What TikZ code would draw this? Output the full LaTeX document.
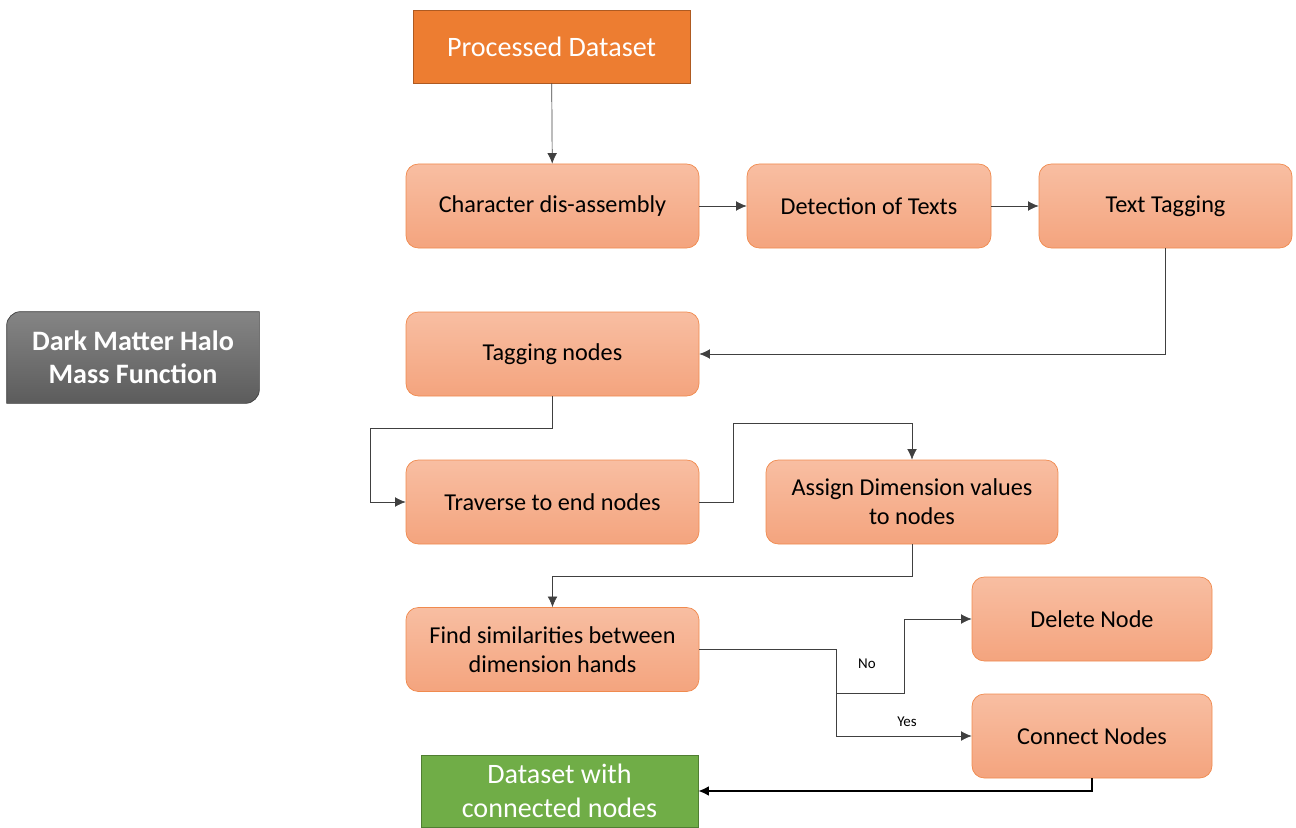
\documentclass[tikz,border=0pt]{standalone}
\usepackage{fontspec}
\setmainfont{Carlito}
\usepackage{tikz}
\usetikzlibrary{positioning,backgrounds,arrows.meta}
\definecolor{procorange}{HTML}{ED7D31}
\definecolor{procedge}{HTML}{AE5A21}
\definecolor{boxtop}{HTML}{F8BEA2}
\definecolor{boxbot}{HTML}{F4A47E}
\definecolor{boxedge}{HTML}{F08A4E}
\definecolor{outgreen}{HTML}{70AD47}
\definecolor{outedge}{HTML}{507E32}
\definecolor{halotop}{HTML}{858585}
\definecolor{halobot}{HTML}{5C5C5C}
\definecolor{linegray}{HTML}{404040}

\begin{document}
\begin{tikzpicture}[x=0.02cm,y=-0.02cm]
\tikzstyle{proc}=[rectangle, rounded corners=7pt, draw=boxedge, top color=boxtop, bottom color=boxbot, minimum height=84*0.02cm, align=center, font=\fontsize{13.8}{16.5}\selectfont]
\tikzstyle{start}=[rectangle, draw=procedge, fill=procorange, text=white, minimum width=277*0.02cm, minimum height=73*0.02cm, font=\fontsize{16}{19}\selectfont]
\tikzstyle{finish}=[rectangle, draw=outedge, fill=outgreen, text=white, align=center, minimum width=277*0.02cm, minimum height=72*0.02cm, font=\fontsize{16}{19}\selectfont]
\tikzstyle{halo}=[rectangle, text=white, align=center, minimum width=252*0.02cm, minimum height=91*0.02cm, font=\fontsize{16}{19}\selectfont\bfseries]
\tikzstyle{connect}=[-{Latex[length=6pt,width=5.5pt]}, linegray]
\tikzstyle{answer}=[font=\fontsize{8.5}{10}\selectfont]
\useasboundingbox (0,0) rectangle (1296,828);
	\node[start] (data) at (551.5,46.5) {Processed Dataset};
	\node[proc, minimum width=293*0.02cm] (chars) at (552.5,206) {Character dis-assembly};
	\node[proc, minimum width=244*0.02cm] (detect) at (869,206) {Detection of Texts};
	\node[proc, minimum width=253*0.02cm] (texttag) at (1165.5,206) {Text Tagging};
	\node[proc, minimum width=293*0.02cm] (nodetag) at (552.5,354) {Tagging nodes};
	\node[proc, minimum width=293*0.02cm] (traverse) at (552.5,502) {Traverse to end nodes};
	\node[proc, minimum width=292*0.02cm] (assign) at (912,502) {Assign Dimension values\\to nodes};
	\node[proc, minimum width=293*0.02cm] (similar) at (552.5,649.5) {Find similarities between\\dimension hands};
	\node[proc, minimum width=240*0.02cm] (delete) at (1092,619) {Delete Node};
	\node[proc, minimum width=240*0.02cm] (join) at (1092,736) {Connect Nodes};
	\node[finish] (result) at (559.5,791) {Dataset with\\connected nodes};
	\node[halo] (dmhalo) at (133,357.5) {Dark Matter Halo\\Mass Function};
	\begin{scope}[on background layer]
	\draw[draw=linegray, top color=halotop, bottom color=halobot] (dmhalo.south west) -- ([yshift=-8pt]dmhalo.north west) arc[start angle=180, end angle=90, radius=8pt] -- (dmhalo.north east) -- ([yshift=8pt]dmhalo.south east) arc[start angle=0, end angle=-90, radius=8pt] -- cycle;
	\end{scope}

	\node[answer] (no) at (867,664) {No};
	\node[answer] (yes) at (907,722) {Yes};
	\coordinate (split) at (836,693);

	\draw[connect] (data) -- (chars);
	\draw[connect] (chars) -- (detect);
	\draw[connect] (detect) -- (texttag);
	\draw[connect] (texttag.south) |- (nodetag.east);
	\draw[connect] (nodetag.south) |- (370,428) |- (traverse.west);
	\draw[connect] (traverse.east) -| (733,423) -| (assign.north);
	\draw[connect] (assign.south) -- ++(0,32) -| (similar.north);
	\draw[connect] (similar.east) -| (split) -| (904,619) -- (delete.west);
	\draw[connect] (split) |- (join.west);
	\draw[-{Latex[length=6pt,width=5.5pt]}, thick, black] (join.south) |- (result.east);
\end{tikzpicture}
\end{document}
